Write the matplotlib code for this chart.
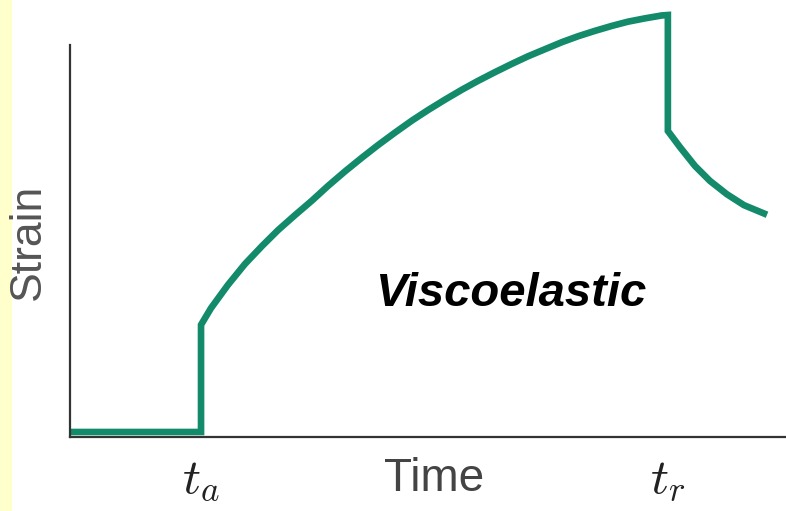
import numpy as np
import matplotlib.pyplot as plt
from matplotlib.patches import Rectangle

plt.rcParams['mathtext.fontset'] = 'cm'

# strain vs time (arbitrary units)
t_a = 1.83   # load applied
t_r = 8.35   # load released

# before loading
flat_t = [0.0, t_a]
flat_s = [0.0, 0.0]

# instant elastic jump then creep
creep_t = [t_a, t_a, 1.969, 2.207, 2.444, 2.682, 2.905, 3.142, 3.380, 3.603,
           3.841, 4.078, 4.302, 4.539, 4.777, 5.000, 5.237, 5.475, 5.698,
           5.936, 6.173, 6.397, 6.634, 6.872, 7.095, 7.332, 7.570, 7.793,
           8.031, 8.268, t_r]
creep_s = [0.0, 0.257, 0.297, 0.353, 0.403, 0.446, 0.484, 0.520, 0.555, 0.590,
           0.625, 0.658, 0.688, 0.718, 0.747, 0.772, 0.797, 0.821, 0.842,
           0.863, 0.883, 0.901, 0.918, 0.935, 0.949, 0.962, 0.974, 0.984,
           0.992, 0.999, 1.0]

# release: instant drop then recovery
rec_t = [t_r, t_r, 8.520, 8.729, 8.939, 9.176, 9.413, 9.735]
rec_s = [1.0, 0.722, 0.683, 0.638, 0.602, 0.570, 0.544, 0.521]

tick_pos = [t_a, t_r]
tick_labels = ['$t_a$', '$t_r$']

green = '#138a6a'

fig = plt.figure(figsize=(7.86, 5.11), dpi=100)
fig.patches.append(Rectangle((0, 0), 11 / 786, 1, transform=fig.transFigure,
                             color='#ffffcc', zorder=-5))
ax = fig.add_axes([70 / 786, 74 / 511, 716 / 786, 437 / 511])

t_all = flat_t + creep_t[1:] + rec_t[1:]
s_all = flat_s + creep_s[1:] + rec_s[1:]
ax.plot(t_all, s_all, color=green, lw=4.8, solid_joinstyle='miter',
        solid_capstyle='butt', clip_on=False)

ax.set_xlim(0, 10)
ax.set_ylim(-0.012, 1.036)

for side in ['top', 'right']:
    ax.spines[side].set_visible(False)
ax.spines['left'].set_bounds(-0.012, 0.928)
for side in ['left', 'bottom']:
    ax.spines[side].set_linewidth(1.6)
    ax.spines[side].set_color('#333333')

ax.set_yticks([])
ax.set_xticks(tick_pos)
ax.set_xticklabels(tick_labels, fontsize=36, color='#222222')
ax.tick_params(axis='x', length=0, pad=13)

ax.set_xlabel('Time', fontsize=33, color='#444444', family='Liberation Sans')
ax.xaxis.set_label_coords(0.508, -0.045)
ax.set_ylabel('Strain', fontsize=32, color='#555555', family='Liberation Sans')
ax.yaxis.set_label_coords(-0.03, 0.446)

ax.text(0.615, 0.328, 'Viscoelastic', transform=ax.transAxes, ha='center',
        va='center', fontsize=34, fontweight='bold', fontstyle='italic',
        family='Liberation Sans', color='black')

fig.savefig('out.png', dpi=100)
